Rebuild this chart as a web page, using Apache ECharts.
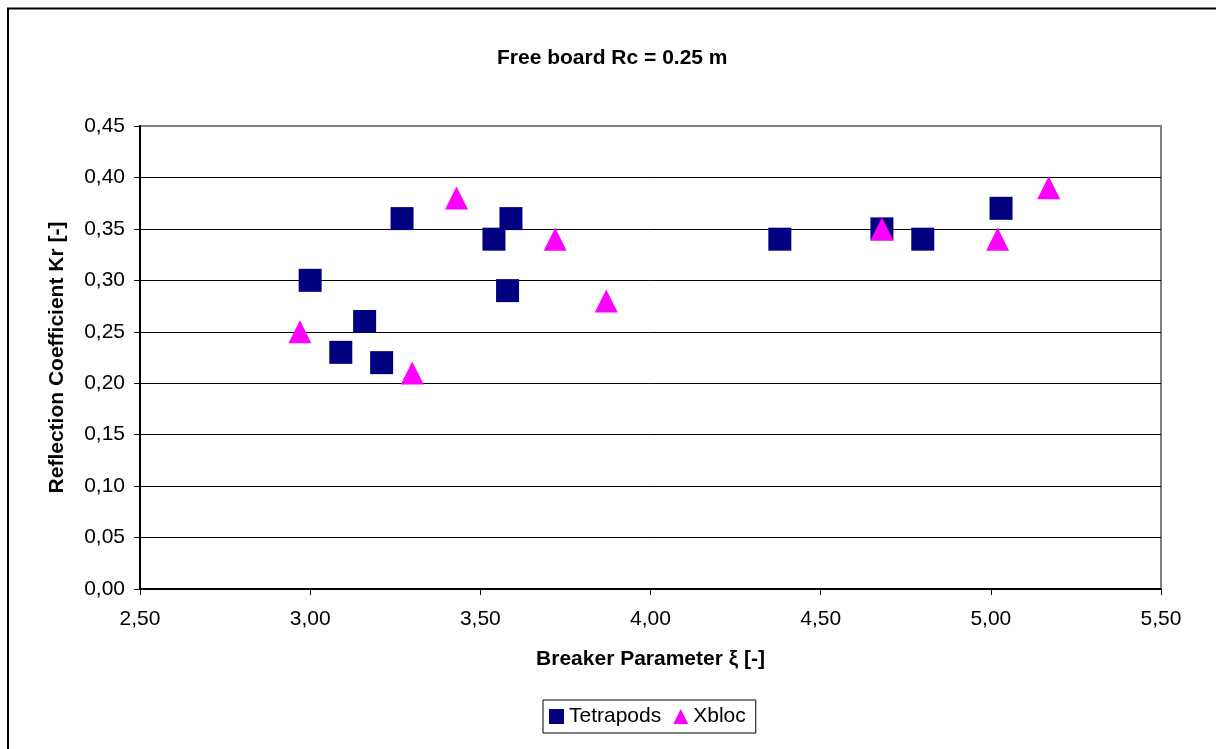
<!DOCTYPE html>
<html>
<head>
<meta charset="utf-8">
<script src="https://cdn.jsdelivr.net/npm/echarts@6/dist/echarts.min.js"></script>
<style>
  html, body { margin: 0; padding: 0; background: #fff; }
  #chart { width: 1216px; height: 749px; }
</style>
</head>
<body>
<div id="chart"></div>
<script>
// Breaker parameter ξ and reflection coefficient Kr per armour unit
const tetrapodsXi = [3.00, 3.09, 3.16, 3.21, 3.27, 3.54, 3.58, 3.59, 4.38, 4.68, 4.80, 5.03];
const tetrapodsKr = [0.30, 0.23, 0.26, 0.22, 0.36, 0.34, 0.29, 0.36, 0.34, 0.35, 0.34, 0.37];
const xblocXi = [2.97, 3.30, 3.43, 3.72, 3.87, 4.68, 5.02, 5.17];
const xblocKr = [0.25, 0.21, 0.38, 0.34, 0.28, 0.35, 0.34, 0.39];
const seriesNames = ['Tetrapods', 'Xbloc'];
const titleText = 'Free board Rc = 0.25 m';
const xAxisTitle = 'Breaker Parameter ξ [-]';
const yAxisTitle = 'Reflection Coefficient Kr [-]';

const pairs = (xs, ys) => xs.map((x, i) => [x, ys[i]]);
const comma = v => v.toFixed(2).replace('.', ',');
const font = 'Liberation Sans, Arial, sans-serif';

const chart = echarts.init(document.getElementById('chart'), null, { renderer: 'canvas' });
chart.setOption({
  animation: false,
  backgroundColor: '#ffffff',
  textStyle: { fontFamily: font },
  title: {
    text: titleText,
    left: 492,
    top: 43,
    textStyle: { fontFamily: font, fontSize: 21, fontWeight: 'bold', color: '#000' }
  },
  graphic: [
    {
      type: 'rect',
      shape: { x: 8, y: 8.5, width: 1400, height: 1000 },
      style: { fill: 'none', stroke: '#000', lineWidth: 2 },
      z: 100
    }
  ],
  grid: { left: 140, right: 55, top: 126, bottom: 160, show: true, borderColor: '#808080', borderWidth: 2 },
  xAxis: {
    type: 'value',
    min: 2.5, max: 5.5, interval: 0.5,
    name: xAxisTitle,
    nameLocation: 'middle',
    nameGap: 60,
    nameTextStyle: { fontFamily: font, fontSize: 21, fontWeight: 'bold', color: '#000' },
    axisLine: { show: true, onZero: false, lineStyle: { color: '#000', width: 2 } },
    axisTick: { show: true, length: 6, lineStyle: { color: '#000' } },
    axisLabel: { formatter: comma, fontFamily: font, fontSize: 21, color: '#000', margin: 20 },
    splitLine: { show: false }
  },
  yAxis: {
    type: 'value',
    min: 0, max: 0.45, interval: 0.05,
    name: yAxisTitle,
    nameLocation: 'middle',
    nameGap: 72,
    nameTextStyle: { fontFamily: font, fontSize: 21, fontWeight: 'bold', color: '#000' },
    axisLine: { show: true, lineStyle: { color: '#000', width: 2 } },
    axisTick: { show: true, length: 6, lineStyle: { color: '#000' } },
    axisLabel: { formatter: comma, fontFamily: font, fontSize: 21, color: '#000', margin: 15 },
    splitLine: { show: true, showMinLine: false, showMaxLine: false, lineStyle: { color: '#000', width: 1 } }
  },
  legend: {
    data: seriesNames,
    left: 543,
    top: 700,
    itemWidth: 15,
    itemHeight: 15,
    itemGap: 12,
    padding: [6, 10, 6, 6],
    borderColor: '#000',
    borderWidth: 1,
    textStyle: { fontFamily: font, fontSize: 21, color: '#000' }
  },
  series: [
    {
      name: seriesNames[0],
      type: 'scatter',
      symbol: 'rect',
      symbolSize: 23,
      itemStyle: { color: '#000080', opacity: 1 },
      data: pairs(tetrapodsXi, tetrapodsKr)
    },
    {
      name: seriesNames[1],
      type: 'scatter',
      symbol: 'triangle',
      symbolSize: 23,
      itemStyle: { color: '#ff00ff', opacity: 1 },
      data: pairs(xblocXi, xblocKr)
    }
  ]
});
</script>
</body>
</html>
